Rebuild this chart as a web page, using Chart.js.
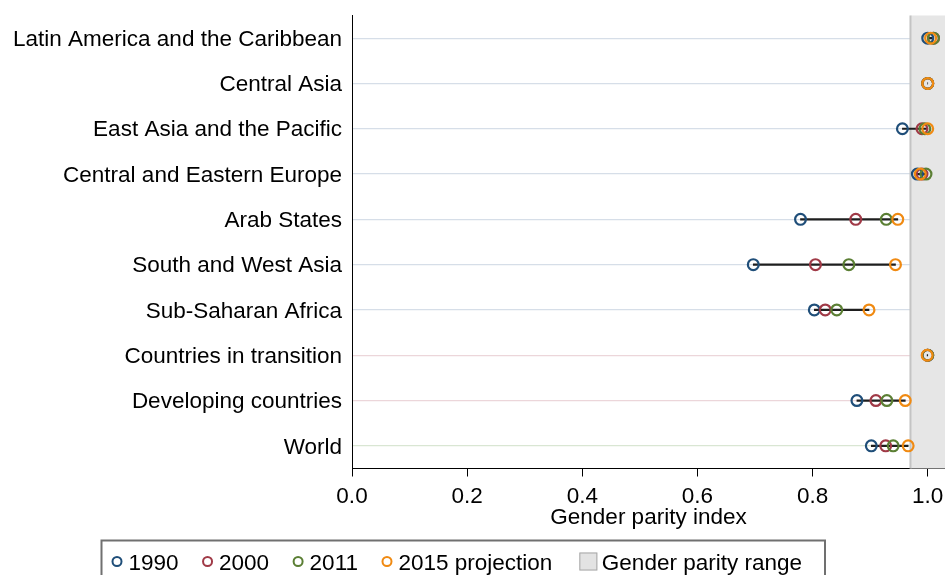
<!DOCTYPE html>
<html><head><meta charset="utf-8">
<script src="https://cdn.jsdelivr.net/npm/chart.js@4.4.1/dist/chart.umd.min.js"></script>
<style>html,body{margin:0;padding:0;background:#fff;}#wrap{width:945px;height:575px;position:relative;}canvas{display:block;}</style>
</head><body><div id="wrap"><canvas id="c" width="945" height="575"></canvas></div>
<script>
// ---- data ----
const categories = ['Latin America and the Caribbean','Central Asia','East Asia and the Pacific','Central and Eastern Europe','Arab States','South and West Asia','Sub-Saharan Africa','Countries in transition','Developing countries','World'];
const gpi1990 = [1.00, 1.00, 0.956, 0.982, 0.779, 0.697, 0.803, 1.00, 0.877, 0.902];
const gpi2000 = [1.01, 1.00, 0.99, 0.99, 0.875, 0.805, 0.822, 1.00, 0.91, 0.927];
const gpi2011 = [1.01, 1.00, 0.995, 0.997, 0.928, 0.863, 0.842, 1.00, 0.929, 0.94];
const gpi2015 = [1.005, 1.00, 1.00, 0.987, 0.948, 0.944, 0.898, 0.999, 0.961, 0.966];
const seriesLabels = ['1990', '2000', '2011', '2015 projection'];
const rangeLabel = 'Gender parity range';
const xTickValues = [0, 0.2, 0.4, 0.6, 0.8, 1.0];
const parityRange = [0.97, 1.03];
const axisTitle = 'Gender parity index';

// ---- styles ----
const FONT = "'Liberation Sans', Arial, sans-serif";
const seriesColors = ['#1f4e79', '#a03a47', '#5b7f34', '#f08a12'];
const allSeries = [gpi1990, gpi2000, gpi2011, gpi2015];
const spans = categories.map((_, i) => {
  const v = allSeries.map(s => s[i]);
  return [Math.min(...v), Math.max(...v)];
});

const pointDatasets = allSeries.map((s, k) => ({
  type: 'line',
  label: seriesLabels[k],
  data: s,
  showLine: false,
  pointStyle: 'circle',
  pointRadius: 5.4,
  pointHoverRadius: 5.4,
  pointBorderWidth: 2.2,
  pointBackgroundColor: 'rgba(0,0,0,0)',
  pointBorderColor: seriesColors[k],
  borderColor: seriesColors[k],
  order: 4 - k
}));

// stretch the plot area to the right edge of the canvas (as in the reference)
const fullWidthPlugin = {
  id: 'fullWidth',
  afterLayout(chart) {
    const ca = chart.chartArea;
    const x = chart.scales.x;
    ca.right = chart.width;
    ca.width = ca.right - ca.left;
    x.right = chart.width;
    x.width = x.right - x.left;
    x.configure();
  }
};

const parityPlugin = {
  id: 'parityBox',
  beforeDatasetsDraw(chart) {
    const {ctx, chartArea, scales} = chart;
    const x0 = scales.x.getPixelForValue(parityRange[0]);
    const x1 = Math.min(scales.x.getPixelForValue(parityRange[1]), chartArea.right);
    ctx.save();
    ctx.fillStyle = '#e6e6e6';
    ctx.fillRect(x0, chartArea.top, x1 - x0, chartArea.bottom - chartArea.top);
    ctx.strokeStyle = '#c4c4c4';
    ctx.lineWidth = 2;
    ctx.beginPath();
    ctx.moveTo(x0, chartArea.top);
    ctx.lineTo(x0, chartArea.bottom);
    ctx.stroke();
    ctx.restore();
  }
};

const legendPlugin = {
  id: 'boxLegend',
  afterDraw(chart) {
    const ctx = chart.ctx;
    const boxLeft = 101.5, boxTop = 540.5, boxRight = 825;
    const baseY = 570, midY = 561.5;
    ctx.save();
    ctx.strokeStyle = '#707070';
    ctx.lineWidth = 2;
    ctx.strokeRect(boxLeft, boxTop, boxRight - boxLeft, 60);
    ctx.font = '22.5px ' + FONT;
    ctx.textBaseline = 'alphabetic';
    ctx.textAlign = 'left';
    let x = boxLeft + 15.5;
    let end = x;
    pointDatasets.forEach((ds) => {
      ctx.strokeStyle = ds.pointBorderColor;
      ctx.lineWidth = 2;
      ctx.beginPath();
      ctx.arc(x, midY, 4.5, 0, Math.PI * 2);
      ctx.stroke();
      ctx.fillStyle = '#000';
      const tx = x + 11.5;
      ctx.fillText(ds.label, tx, baseY);
      end = tx + ctx.measureText(ds.label).width;
      x = end + 29;
    });
    const sq = end + 27;
    ctx.fillStyle = '#e3e3e3';
    ctx.fillRect(sq, midY - 9, 18, 18);
    ctx.strokeStyle = '#a8a8a8';
    ctx.lineWidth = 1;
    ctx.strokeRect(sq + 0.5, midY - 8.5, 17, 17);
    ctx.fillStyle = '#000';
    ctx.fillText(rangeLabel, sq + 22.5, baseY);
    ctx.restore();
  }
};

new Chart(document.getElementById('c'), {
  type: 'bar',
  data: {
    labels: categories,
    datasets: [
      {
        type: 'bar',
        label: 'range',
        data: spans,
        backgroundColor: '#1e1e1e',
        borderWidth: 0,
        barThickness: 1.5,
        grouped: false,
        order: 10
      },
      ...pointDatasets
    ]
  },
  options: {
    indexAxis: 'y',
    responsive: false,
    animation: false,
    devicePixelRatio: 1,
    layout: { padding: { top: 15.5, right: 0, bottom: 35, left: 0 } },
    plugins: { legend: { display: false }, tooltip: { enabled: false } },
    scales: {
      x: {
        type: 'linear',
        min: 0,
        max: parityRange[1],
        z: 1,
        afterBuildTicks: (s) => { s.ticks = xTickValues.map(v => ({ value: v })); },
        afterFit: (s) => { s.height = 71.5; s.paddingLeft = 0; s.paddingRight = 0; },
        grid: { drawOnChartArea: false, drawTicks: true, tickLength: 8, color: '#000', lineWidth: 1 },
        border: { display: true, color: '#000', width: 1 },
        ticks: {
          padding: 7,
          maxRotation: 0,
          color: '#000',
          font: { family: FONT, size: 22.5 },
          callback: (v) => Number(v).toFixed(1)
        },
        title: {
          display: true,
          text: axisTitle,
          color: '#000',
          font: { family: FONT, size: 22.5 },
          padding: { top: 0, bottom: 9 }
        }
      },
      y: {
        type: 'category',
        offset: true,
        afterFit: (s) => { s.width = 352; s.paddingTop = 0; s.paddingBottom = 0; },
        grid: {
          offset: false,
          drawTicks: false,
          lineWidth: 1.3,
          color: (c) => c.index >= 9 ? '#d9e6d3' : (c.index >= 7 ? '#ecd6da' : '#d6dee8')
        },
        border: { display: true, color: '#000', width: 1 },
        ticks: {
          padding: 10,
          labelOffset: 1.5,
          color: '#000',
          font: { family: FONT, size: 22.5 }
        }
      }
    }
  },
  plugins: [fullWidthPlugin, parityPlugin, legendPlugin]
});
</script>
</body></html>
